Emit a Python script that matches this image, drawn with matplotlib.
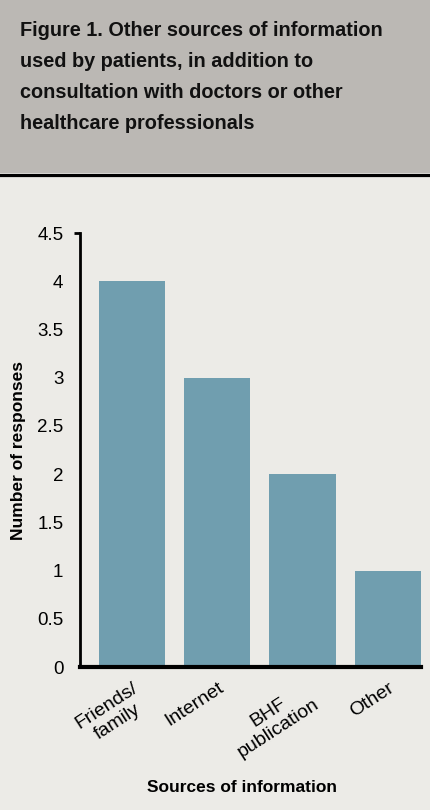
import matplotlib.pyplot as plt
from matplotlib import font_manager
from matplotlib.patches import Rectangle
from matplotlib.lines import Line2D

sources = ['Friends/\nfamily', 'Internet', 'BHF\npublication', 'Other']
responses = [4, 3, 2, 1]
yticks = [0, 0.5, 1, 1.5, 2, 2.5, 3, 3.5, 4, 4.5]
ytick_labels = ['0', '0.5', '1', '1.5', '2', '2.5', '3', '3.5', '4', '4.5']

title_lines = ['Figure 1. Other sources of information',
               'used by patients, in addition to',
               'consultation with doctors or other',
               'healthcare professionals']

bg = '#ECEBE7'
header = '#BBB8B4'
bar_color = '#709EAF'

installed = {f.name for f in font_manager.fontManager.ttflist}
narrow = [f for f in ['Liberation Sans Narrow', 'DejaVu Sans Condensed'] if f in installed]
plt.rcParams['font.family'] = narrow + ['Liberation Sans', 'DejaVu Sans']

W, H = 431, 810
fig = plt.figure(figsize=(W / 100, H / 100), dpi=100)
fig.patch.set_facecolor(bg)

# header band + rule
fig.patches.append(Rectangle((0, 1 - 173 / H), 1, 173 / H, transform=fig.transFigure,
                             facecolor=header, edgecolor='none', zorder=0))
fig.lines.append(Line2D([0, 1], [1 - 174.5 / H] * 2, transform=fig.transFigure,
                        color='black', lw=2.3))

# title, one line at a time, first line fitted to the reference width
renderer = fig.canvas.get_renderer()
t = fig.text(20 / W, 1 - 36 / H, title_lines[0], ha='left', va='baseline',
             fontsize=15, fontweight='bold', color='#111111')
w = t.get_window_extent(renderer).width
size = 15 * 365 / w
t.set_fontsize(size)
for i, line in enumerate(title_lines[1:], start=1):
    fig.text(20 / W, 1 - (36 + 31 * i) / H, line, ha='left', va='baseline',
             fontsize=size, fontweight='bold', color='#111111')

ax = fig.add_axes([80 / W, 1 - 667 / H, (421 - 80) / W, (667 - 233) / H])
ax.set_facecolor(bg)
x = range(len(sources))
ax.bar(x, responses, width=0.78, color=bar_color)
ax.set_xlim(-0.61, 3.39)
ax.set_ylim(0, 4.5)

ax.set_yticks(yticks)
ax.set_yticklabels(ytick_labels, fontsize=13.5)
ax.tick_params(axis='y', length=4, width=2, pad=8)
# only the top tick mark is drawn in the reference
for tk in ax.yaxis.get_major_ticks()[:-1]:
    tk.tick1line.set_visible(False)

ax.set_xticks(list(x))
ax.set_xticklabels(sources, fontsize=14, rotation=33, ha='right', va='top',
                   rotation_mode='anchor', multialignment='center')
ax.tick_params(axis='x', length=0, pad=9)

for s in ['top', 'right']:
    ax.spines[s].set_visible(False)
ax.spines['left'].set_linewidth(2)
ax.spines['bottom'].set_linewidth(3)

ax.set_ylabel('Number of responses', fontsize=12.5, fontweight='bold')
ax.yaxis.set_label_coords(-54 / 341, 0.5)
ax.set_xlabel('Sources of information', fontsize=12.5, fontweight='bold')
ax.xaxis.set_label_coords(0.475, -(780 - 667) / 434)

fig.savefig('out.png', dpi=100, facecolor=bg)
